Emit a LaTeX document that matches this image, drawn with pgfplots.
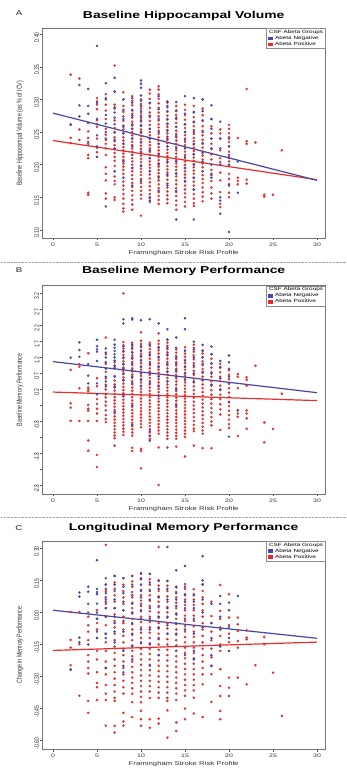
\documentclass[border=0pt]{standalone}
\usepackage{graphicx}
\usepackage{fontspec}
\setmainfont{Liberation Sans}
\usepackage{pgfplots}
\pgfplotsset{compat=1.18}
\definecolor{negC}{RGB}{72,72,168}
\definecolor{posC}{RGB}{232,42,42}
\definecolor{negL}{RGB}{70,70,165}
\definecolor{posL}{RGB}{236,45,45}
\newcommand{\hs}[1]{\scalebox{1.39}[1]{#1}}
\newcommand{\vs}[1]{\scalebox{1}[1.39]{#1}}
\newcommand{\tickfont}{\fontsize{5}{6}\selectfont}
\newcommand{\labfont}{\fontsize{5.6}{6.5}\selectfont}
\newcommand{\ylabfont}{\fontsize{5.3}{6}\selectfont}
\newcommand{\titfont}{\fontsize{10}{12}\selectfont\bfseries}
\newcommand{\legfont}{\fontsize{4.6}{5.2}\selectfont}
\pgfplotsset{
  every axis title/.style={at={(0.5,1)}, anchor=base, font=\titfont, inner sep=0pt},
  panel/.style={
    scale only axis, width=283.3pt,
    xmin=-1.25, xmax=30.94,
    axis line style={black!55, line width=0.45pt},
    tick align=outside, tick pos=left,
    major tick length=2.5pt,
    every tick/.style={black!70, line width=0.4pt},
    xtick={0,5,10,15,20,25,30},
    xticklabels={\hs{0},\hs{5},\hs{10},\hs{15},\hs{20},\hs{25},\hs{30}},
    ticklabel style={font=\tickfont, text=black!80},
    xticklabel style={inner sep=0pt, yshift=-2.5pt},
    yticklabel style={rotate=90, anchor=south, inner sep=0pt, xshift=-3pt},
    xlabel={\hs{Framingham Stroke Risk Profile}},
    xlabel style={font=\labfont, text=black!80, at={(axis description cs:0.5,0)}, anchor=north, yshift=-12.5pt, inner sep=0pt},
    ylabel style={font=\ylabfont, text=black!80, at={(axis description cs:-0.078,0.5)}, anchor=center, inner sep=0pt},
    legend style={at={(1,1)}, anchor=north east, draw=black!45, fill=white, font=\legfont,
      inner xsep=1.5pt, inner ysep=1pt, row sep=0.2pt, nodes={inner sep=0.5pt},
      /tikz/every odd column/.append style={column sep=2pt}},
    legend cell align=left,
  },
  negpts/.style={only marks, mark=*, mark size=1.05pt, color=negC, mark options={draw=none, fill=negC}, forget plot},
  pospts/.style={only marks, mark=*, mark size=1.05pt, color=posC, mark options={draw=none, fill=posC}, forget plot},
  negline/.style={no marks, color=negL, line width=1.2pt, forget plot},
  posline/.style={no marks, color=posL, line width=1.2pt, forget plot},
}
\newcommand{\mylegend}{%
  \addlegendimage{empty legend}\addlegendentry{\hspace*{-6pt}\hs{CSF Abeta Groups}}
  \addlegendimage{legend image code/.code={\fill[negC] (0pt,-1.2pt) rectangle (4.2pt,1.6pt);}}\addlegendentry{\hs{Abeta Negative}}
  \addlegendimage{legend image code/.code={\fill[posC] (0pt,-1.2pt) rectangle (4.2pt,1.6pt);}}\addlegendentry{\hs{Abeta Positive}}
}
\begin{document}
\begin{tikzpicture}
\useasboundingbox (0pt,0pt) rectangle (347pt,773pt);
\draw[black!35, line width=0.5pt, dash pattern=on 0.7pt off 0.7pt] (1pt,511pt) -- (346pt,511pt);
\draw[black!35, line width=0.5pt, dash pattern=on 0.7pt off 0.7pt] (1pt,256pt) -- (346pt,256pt);
\node[anchor=base, font=\fontsize{7}{8}\selectfont, text=black!85] at (19pt,757pt) {\hs{A}};
\node[anchor=base, font=\fontsize{7}{8}\selectfont, text=black!85] at (19pt,500.7pt) {\hs{B}};
\node[anchor=base, font=\fontsize{7}{8}\selectfont, text=black!85] at (19pt,242.5pt) {\hs{C}};

% ---------------- Panel A ----------------
\begin{axis}[panel, at={(42pt,535pt)}, anchor=south west, height=209.7pt,
  ymin=0.0877, ymax=0.409,
  ytick={0.10,0.15,0.20,0.25,0.30,0.35,0.40},
  yticklabels={\vs{0.10},\vs{0.15},\vs{0.20},\vs{0.25},\vs{0.30},\vs{0.35},\vs{0.40}},
  ylabel={\vs{Baseline Hippocampal Volume (as \% of ICV)}},
  title={\hs{Baseline Hippocampal Volume}}, title style={yshift=10pt}]
\mylegend
\addplot[pospts] coordinates {
(2,.338)(2,.261)(2,.241)(2,.233)
(3,.332)(3,.254)(3,.238)
(4,.251)(4,.241)(4,.235)(4,.215)(4,.210)(4,.157)(4,.154)
(5,.302)(5,.297)(5,.292)(5,.285)(5,.268)(5,.258)(5,.240)(5,.226)(5,.219)(5,.212)
(6,.308)(6,.302)(6,.292)(6,.283)(6,.270)(6,.255)(6,.246)(6,.238)(6,.232)(6,.225)(6,.215)(6,.196)(6,.186)(6,.176)(6,.156)(6,.148)
(7,.352)(7,.312)(7,.292)(7,.286)(7,.268)(7,.256)(7,.249)(7,.242)(7,.236)(7,.230)(7,.224)(7,.218)(7,.212)(7,.206)(7,.198)(7,.190)(7,.182)(7,.175)(7,.170)(7,.150)(7,.146)
(8,.311)(8,.300)(8,.290)(8,.281)(8,.274)(8,.267)(8,.260)(8,.254)(8,.248)(8,.242)(8,.237)(8,.232)(8,.227)(8,.222)(8,.217)(8,.212)(8,.207)(8,.202)(8,.197)(8,.192)(8,.186)(8,.180)(8,.174)(8,.168)(8,.162)(8,.155)(8,.148)(8,.140)(8,.133)(8,.128)
(9,.305)(9,.298)(9,.291)(9,.284)(9,.278)(9,.272)(9,.266)(9,.260)(9,.255)(9,.250)(9,.245)(9,.240)(9,.235)(9,.230)(9,.225)(9,.220)(9,.215)(9,.210)(9,.205)(9,.200)(9,.195)(9,.190)(9,.184)(9,.178)(9,.172)(9,.166)(9,.160)(9,.153)(9,.146)(9,.139)(9,.131)
(10,.300)(10,.293)(10,.286)(10,.279)(10,.272)(10,.266)(10,.260)(10,.254)(10,.249)(10,.244)(10,.239)(10,.234)(10,.229)(10,.224)(10,.219)(10,.214)(10,.209)(10,.204)(10,.199)(10,.194)(10,.189)(10,.184)(10,.178)(10,.172)(10,.166)(10,.160)(10,.154)(10,.148)(10,.122)
(11,.315)(11,.309)(11,.301)(11,.294)(11,.287)(11,.280)(11,.273)(11,.267)(11,.261)(11,.255)(11,.250)(11,.245)(11,.240)(11,.235)(11,.230)(11,.225)(11,.220)(11,.215)(11,.210)(11,.205)(11,.200)(11,.195)(11,.190)(11,.185)(11,.179)(11,.173)(11,.167)(11,.161)(11,.155)(11,.149)(11,.143)
(12,.320)(12,.315)(12,.308)(12,.301)(12,.294)(12,.287)(12,.280)(12,.274)(12,.268)(12,.262)(12,.257)(12,.252)(12,.247)(12,.242)(12,.237)(12,.232)(12,.227)(12,.222)(12,.217)(12,.212)(12,.207)(12,.202)(12,.197)(12,.192)(12,.187)(12,.182)(12,.176)(12,.170)(12,.164)(12,.158)(12,.152)(12,.146)(12,.140)
(13,.295)(13,.288)(13,.281)(13,.275)(13,.269)(13,.263)(13,.258)(13,.253)(13,.248)(13,.243)(13,.238)(13,.233)(13,.228)(13,.223)(13,.218)(13,.213)(13,.208)(13,.203)(13,.198)(13,.193)(13,.188)(13,.183)(13,.177)(13,.171)(13,.165)(13,.159)(13,.153)(13,.147)(13,.141)
(14,.290)(14,.283)(14,.276)(14,.270)(14,.264)(14,.258)(14,.252)(14,.247)(14,.242)(14,.237)(14,.232)(14,.227)(14,.222)(14,.217)(14,.212)(14,.207)(14,.202)(14,.197)(14,.192)(14,.187)(14,.182)(14,.176)(14,.170)(14,.164)(14,.158)(14,.152)(14,.145)(14,.138)(14,.131)
(15,.292)(15,.284)(15,.276)(15,.269)(15,.262)(15,.256)(15,.250)(15,.245)(15,.240)(15,.235)(15,.230)(15,.225)(15,.220)(15,.215)(15,.210)(15,.205)(15,.200)(15,.195)(15,.190)(15,.185)(15,.180)(15,.174)(15,.168)(15,.162)(15,.156)(15,.150)(15,.143)(15,.136)
(16,.290)(16,.281)(16,.273)(16,.266)(16,.259)(16,.253)(16,.247)(16,.241)(16,.236)(16,.231)(16,.226)(16,.221)(16,.216)(16,.211)(16,.206)(16,.201)(16,.196)(16,.191)(16,.186)(16,.180)(16,.174)(16,.168)(16,.162)(16,.155)(16,.148)(16,.141)(16,.137)
(17,.300)(17,.286)(17,.276)(17,.267)(17,.259)(17,.252)(17,.245)(17,.238)(17,.232)(17,.226)(17,.220)(17,.214)(17,.208)(17,.202)(17,.196)(17,.190)(17,.184)(17,.178)(17,.172)(17,.165)(17,.158)(17,.151)(17,.144)
(18,.270)(18,.259)(18,.248)(18,.240)(18,.232)(18,.224)(18,.216)(18,.208)(18,.200)(18,.192)(18,.184)(18,.175)(18,.165)(18,.156)(18,.148)
(19,.254)(19,.248)(19,.240)(19,.222)(19,.210)(19,.204)(19,.188)(19,.176)(19,.158)(19,.140)(19,.135)
(20,.261)(20,.255)(20,.248)(20,.242)(20,.235)(20,.228)(20,.220)(20,.212)(20,.205)(20,.198)(20,.186)(20,.178)(20,.170)(20,.157)(20,.150)
(21,.241)(21,.180)(21,.175)(21,.170)
(22,.316)(22,.236)(22,.232)(22,.177)(22,.171)
(23,.234)(24,.154)(24,.151)(25,.154)(26,.222)
};
\addplot[negpts] coordinates {
(2,.262)
(3,.322)(3,.291)(3,.274)
(4,.316)(4,.290)(4,.278)(4,.264)(4,.232)
(5,.382)(5,.295)(5,.270)(5,.262)(5,.245)(5,.228)(5,.212)
(6,.325)(6,.300)(6,.276)(6,.263)(6,.250)(6,.240)(6,.136)
(7,.333)(7,.312)(7,.288)(7,.280)(7,.272)(7,.262)(7,.250)(7,.238)(7,.225)(7,.190)
(8,.300)(8,.284)(8,.270)(8,.258)(8,.248)(8,.232)(8,.205)(8,.180)
(9,.302)(9,.295)(9,.283)(9,.275)(9,.262)(9,.255)(9,.240)(9,.228)(9,.215)(9,.195)(9,.168)
(10,.329)(10,.324)(10,.318)(10,.306)(10,.298)(10,.290)(10,.282)(10,.275)(10,.268)(10,.260)(10,.250)(10,.235)(10,.220)(10,.198)(10,.175)
(11,.295)(11,.275)(11,.255)(11,.240)(11,.222)(11,.210)(11,.190)(11,.150)(11,.145)
(12,.305)(12,.285)(12,.270)(12,.250)(12,.232)(12,.215)(12,.200)(12,.180)(12,.160)
(13,.297)(13,.290)(13,.282)(13,.270)(13,.262)(13,.252)(13,.240)(13,.228)(13,.205)(13,.185)(13,.168)
(14,.296)(14,.282)(14,.272)(14,.258)(14,.244)(14,.225)(14,.205)(14,.186)(14,.160)(14,.116)
(15,.305)(15,.278)(15,.262)(15,.250)(15,.238)(15,.225)(15,.212)(15,.195)(15,.175)
(16,.302)(16,.280)(16,.265)(16,.250)(16,.232)(16,.216)(16,.200)(16,.180)(16,.162)(16,.116)
(17,.300)(17,.282)(17,.268)(17,.250)(17,.233)(17,.218)(17,.205)(17,.190)
(18,.291)(18,.270)(18,.255)(18,.240)(18,.225)(18,.200)(18,.186)(18,.180)
(19,.266)(19,.240)(19,.225)(19,.200)(19,.150)(19,.145)(19,.125)
(20,.240)(20,.228)(20,.215)(20,.210)(20,.200)(20,.168)(20,.097)
(21,.205)(21,.157)
};
\addplot[posline] coordinates {(0,.237)(30,.177)};
\addplot[negline] coordinates {(0,.279)(30,.176)};
\end{axis}

% ---------------- Panel B ----------------
\begin{axis}[panel, at={(42pt,279pt)}, anchor=south west, height=208.3pt,
  ymin=-3.059, ymax=3.437,
  ytick={-2.8,-2.3,-1.8,-1.3,-0.8,-0.3,0.2,0.7,1.2,1.7,2.2,2.7,3.2},
  yticklabels={\vs{-2.8},{},\vs{-1.8},{},\vs{-0.8},{},\vs{0.2},\vs{0.7},\vs{1.2},\vs{1.7},\vs{2.2},\vs{2.7},\vs{3.2}},
  ylabel={\vs{Baseline Memory Performance}},
  title={\hs{Baseline Memory Performance}}, title style={yshift=12.4pt}]
\mylegend
\addplot[pospts] coordinates {
(2,.81)(2,-.23)(2,-.37)(2,-.78)
(3,.99)(3,.91)(3,.24)(3,-.78)
(4,1.33)(4,.26)(4,.20)(4,.14)(4,-.28)(4,-.40)(4,-.46)(4,-.78)(4,-1.39)(4,-1.71)
(5,.55)(5,.30)(5,-.10)(5,-.25)(5,-.40)(5,-.55)(5,-.78)(5,-1.84)(5,-2.22)
(6,1.82)(6,1.30)(6,1.00)(6,.75)(6,.55)(6,.35)(6,.20)(6,.05)(6,-.05)(6,-.18)(6,-.30)(6,-.45)(6,-.60)(6,-.72)(6,-.82)
(7,1.05)(7,.90)(7,.62)(7,.48)(7,.36)(7,.26)(7,.16)(7,.06)(7,-.04)(7,-.14)(7,-.24)(7,-.34)(7,-.44)(7,-.54)(7,-.64)(7,-.74)(7,-.84)(7,-.94)(7,-1.04)(7,-1.14)(7,-1.24)(7,-1.32)(7,-1.55)
(8,3.20)(8,1.68)(8,1.58)(8,1.48)(8,1.38)(8,1.28)(8,1.18)(8,1.08)(8,.98)(8,.88)(8,.78)(8,.68)(8,.58)(8,.48)(8,.38)(8,.28)(8,.18)(8,.08)(8,-.02)(8,-.12)(8,-.22)(8,-.32)(8,-.42)(8,-.52)(8,-.62)(8,-.72)(8,-.82)(8,-.92)(8,-1.02)(8,-1.12)(8,-1.22)
(9,1.66)(9,1.56)(9,1.46)(9,1.36)(9,1.26)(9,1.16)(9,1.06)(9,.96)(9,.86)(9,.76)(9,.66)(9,.56)(9,.46)(9,.36)(9,.26)(9,.16)(9,.06)(9,-.04)(9,-.14)(9,-.24)(9,-.34)(9,-.44)(9,-.54)(9,-.64)(9,-.74)(9,-.84)(9,-.94)(9,-1.04)(9,-1.14)(9,-1.24)(9,-1.62)(9,-1.72)
(10,1.98)(10,1.72)(10,1.62)(10,1.52)(10,1.42)(10,1.32)(10,1.22)(10,1.12)(10,1.02)(10,.92)(10,.82)(10,.72)(10,.62)(10,.52)(10,.42)(10,.32)(10,.22)(10,.12)(10,.02)(10,-.08)(10,-.18)(10,-.28)(10,-.38)(10,-.48)(10,-.58)(10,-.68)(10,-.78)(10,-.88)(10,-.98)(10,-1.65)(10,-1.72)(10,-2.26)
(11,1.66)(11,1.56)(11,1.46)(11,1.36)(11,1.26)(11,1.16)(11,1.06)(11,.96)(11,.86)(11,.76)(11,.66)(11,.56)(11,.46)(11,.36)(11,.26)(11,.16)(11,.06)(11,-.04)(11,-.14)(11,-.24)(11,-.34)(11,-.44)(11,-.54)(11,-.64)(11,-.74)(11,-.84)(11,-.94)(11,-1.04)(11,-1.14)(11,-1.24)(11,-1.34)
(12,1.95)(12,1.72)(12,1.62)(12,1.52)(12,1.42)(12,1.32)(12,1.22)(12,1.12)(12,1.02)(12,.92)(12,.82)(12,.72)(12,.62)(12,.52)(12,.42)(12,.32)(12,.22)(12,.12)(12,.02)(12,-.08)(12,-.18)(12,-.28)(12,-.38)(12,-.48)(12,-.58)(12,-.68)(12,-.78)(12,-.88)(12,-.98)(12,-1.08)(12,-1.18)(12,-1.61)(12,-2.78)
(13,1.76)(13,1.66)(13,1.56)(13,1.46)(13,1.36)(13,1.26)(13,1.16)(13,1.06)(13,.96)(13,.86)(13,.76)(13,.66)(13,.56)(13,.46)(13,.36)(13,.26)(13,.16)(13,.06)(13,-.04)(13,-.14)(13,-.24)(13,-.34)(13,-.44)(13,-.54)(13,-.64)(13,-.74)(13,-.84)(13,-.94)(13,-1.04)(13,-1.14)(13,-1.24)(13,-1.34)(13,-1.61)
(14,1.45)(14,1.35)(14,1.25)(14,1.15)(14,1.05)(14,.95)(14,.85)(14,.75)(14,.65)(14,.55)(14,.45)(14,.35)(14,.25)(14,.15)(14,.05)(14,-.05)(14,-.15)(14,-.25)(14,-.35)(14,-.45)(14,-.55)(14,-.65)(14,-.75)(14,-.85)(14,-.95)(14,-1.05)(14,-1.15)(14,-1.25)(14,-1.34)(14,-1.58)
(15,1.52)(15,1.42)(15,1.32)(15,1.22)(15,1.12)(15,1.02)(15,.92)(15,.82)(15,.72)(15,.62)(15,.52)(15,.42)(15,.32)(15,.22)(15,.12)(15,.02)(15,-.08)(15,-.18)(15,-.28)(15,-.38)(15,-.48)(15,-.58)(15,-.68)(15,-.78)(15,-.88)(15,-.98)(15,-1.08)(15,-1.18)(15,-1.28)(15,-1.89)
(16,1.60)(16,1.50)(16,1.38)(16,1.26)(16,1.14)(16,1.02)(16,.90)(16,.78)(16,.66)(16,.54)(16,.42)(16,.30)(16,.18)(16,.06)(16,-.06)(16,-.18)(16,-.30)(16,-.42)(16,-.54)(16,-.66)(16,-.78)(16,-.90)(16,-1.02)(16,-1.10)(16,-1.55)
(17,1.42)(17,1.32)(17,1.20)(17,1.08)(17,.96)(17,.84)(17,.72)(17,.60)(17,.48)(17,.36)(17,.24)(17,.12)(17,.00)(17,-.12)(17,-.24)(17,-.36)(17,-.48)(17,-.60)(17,-.72)(17,-.84)(17,-.96)(17,-1.08)(17,-1.18)(17,-1.63)
(18,1.30)(18,1.16)(18,1.02)(18,.88)(18,.74)(18,.60)(18,.46)(18,.32)(18,.18)(18,.04)(18,-.10)(18,-.24)(18,-.38)(18,-.52)(18,-.66)(18,-.80)(18,-.92)(18,-1.63)
(19,1.00)(19,.88)(19,.74)(19,.60)(19,.46)(19,.32)(19,.18)(19,.04)(19,-.10)(19,-.26)(19,-.42)(19,-.58)(19,-1.06)
(20,.80)(20,.66)(20,.52)(20,.38)(20,.24)(20,.10)(20,-.04)(20,-.18)(20,-.32)(20,-.46)(20,-.60)(20,-.74)(20,-.88)(20,-1.00)
(21,.68)(21,.60)(21,.24)(21,-.45)(21,-.55)(21,-.65)(21,-1.25)
(22,.58)(22,.50)(22,.32)(22,-.45)(22,-.55)(22,-.70)(22,-1.03)
(23,.94)(24,-.83)(24,-1.45)(25,-1.03)(26,.07)
};
\addplot[negpts] coordinates {
(2,1.19)
(3,1.67)(3,1.43)(3,1.22)
(4,.99)(4,.63)(4,.39)
(5,1.75)(5,1.55)(5,1.45)(5,1.38)(5,1.09)(5,.39)(5,.05)
(6,1.48)(6,1.35)(6,1.20)(6,1.05)(6,.85)(6,.60)(6,.45)(6,.30)
(7,1.75)(7,1.60)(7,1.50)(7,1.40)(7,1.30)(7,1.20)(7,1.10)(7,.95)(7,.86)(7,.60)(7,.30)(7,-.50)
(8,2.39)(8,2.26)(8,1.55)(8,1.40)(8,1.20)(8,1.00)(8,.85)(8,.70)(8,.50)(8,.00)
(9,2.42)(9,2.38)(9,1.60)(9,1.50)(9,1.35)(9,1.20)(9,1.00)(9,.80)(9,.60)(9,.40)(9,-.30)(9,-.90)
(10,2.36)(10,1.55)(10,1.40)(10,1.25)(10,1.10)(10,.90)(10,.70)(10,.50)(10,.30)
(11,2.39)(11,1.60)(11,1.30)(11,1.00)(11,.70)(11,.40)(11,-1.10)(11,-1.25)(11,-1.40)
(12,2.26)(12,1.50)(12,1.20)(12,.90)(12,.60)(12,.30)(12,.00)
(13,2.08)(13,1.75)(13,1.50)(13,1.30)(13,1.00)(13,.75)(13,.45)
(14,1.82)(14,1.50)(14,1.20)(14,1.00)(14,.80)(14,.60)(14,.20)(14,-.30)
(15,2.42)(15,2.08)(15,1.40)(15,1.10)(15,.90)(15,.70)(15,.50)
(16,1.69)(16,1.45)(16,1.20)(16,.95)(16,.70)(16,.45)
(17,1.59)(17,1.40)(17,1.20)(17,1.00)(17,.75)(17,.50)
(18,1.54)(18,1.30)(18,1.00)(18,.70)(18,.35)
(19,1.09)(19,.90)(19,.55)(19,.20)
(20,1.26)(20,1.05)(20,.85)(20,.60)(20,.40)(20,-.20)(20,-1.27)
(21,-.45)
};
\addplot[posline] coordinates {(0,.12)(30,-.147)};
\addplot[negline] coordinates {(0,1.07)(30,.10)};
\end{axis}

% ---------------- Panel C ----------------
\begin{axis}[panel, at={(42pt,24pt)}, anchor=south west, height=208pt,
  ymin=-0.639, ymax=0.334,
  ytick={-0.60,-0.45,-0.30,-0.15,0.00,0.15,0.30},
  yticklabels={\vs{-0.60},\vs{-0.45},\vs{-0.30},\vs{-0.15},\vs{0.00},\vs{0.15},\vs{0.30}},
  ylabel={\vs{Change in Memory Performance}},
  title={\hs{Longitudinal Memory Performance}}, title style={yshift=10.3pt}]
\mylegend
\addplot[pospts] coordinates {
(2,.002)(2,-.129)(2,-.165)(2,-.247)(2,-.269)
(3,.002)(3,-.149)(3,-.390)
(4,-.020)(4,-.060)(4,-.090)(4,-.130)(4,-.200)(4,-.230)(4,-.260)(4,-.286)(4,-.414)(4,-.470)
(5,.010)(5,-.030)(5,-.050)(5,-.080)(5,-.120)(5,-.180)(5,-.220)(5,-.280)(5,-.330)(5,-.350)(5,-.410)
(6,.316)(6,.130)(6,.100)(6,.060)(6,.040)(6,.020)(6,-.020)(6,-.060)(6,-.100)(6,-.140)(6,-.180)(6,-.230)(6,-.260)(6,-.290)(6,-.340)(6,-.380)(6,-.410)(6,-.530)
(7,.171)(7,.140)(7,.110)(7,.080)(7,.050)(7,.020)(7,-.010)(7,-.040)(7,-.070)(7,-.100)(7,-.130)(7,-.160)(7,-.190)(7,-.220)(7,-.250)(7,-.280)(7,-.310)(7,-.340)(7,-.370)(7,-.400)(7,-.414)(7,-.531)(7,-.562)
(8,.160)(8,.130)(8,.100)(8,.070)(8,.040)(8,.010)(8,-.020)(8,-.050)(8,-.080)(8,-.110)(8,-.140)(8,-.170)(8,-.200)(8,-.230)(8,-.260)(8,-.290)(8,-.320)(8,-.350)(8,-.380)(8,-.470)(8,-.510)(8,-.530)
(9,.171)(9,.145)(9,.120)(9,.095)(9,.070)(9,.045)(9,.020)(9,-.005)(9,-.030)(9,-.055)(9,-.080)(9,-.105)(9,-.130)(9,-.155)(9,-.180)(9,-.205)(9,-.230)(9,-.255)(9,-.280)(9,-.305)(9,-.330)(9,-.355)(9,-.380)(9,-.420)(9,-.490)
(10,.180)(10,.155)(10,.130)(10,.105)(10,.080)(10,.055)(10,.030)(10,.005)(10,-.020)(10,-.045)(10,-.070)(10,-.095)(10,-.120)(10,-.145)(10,-.170)(10,-.195)(10,-.220)(10,-.245)(10,-.270)(10,-.295)(10,-.320)(10,-.345)(10,-.370)(10,-.395)(10,-.420)(10,-.460)(10,-.500)(10,-.530)
(11,.180)(11,.155)(11,.130)(11,.105)(11,.080)(11,.055)(11,.030)(11,.005)(11,-.020)(11,-.045)(11,-.070)(11,-.095)(11,-.120)(11,-.145)(11,-.170)(11,-.195)(11,-.220)(11,-.245)(11,-.270)(11,-.295)(11,-.320)(11,-.345)(11,-.370)(11,-.400)(11,-.500)(11,-.540)
(12,.306)(12,.147)(12,.125)(12,.100)(12,.075)(12,.050)(12,.025)(12,.000)(12,-.025)(12,-.050)(12,-.075)(12,-.100)(12,-.125)(12,-.150)(12,-.175)(12,-.200)(12,-.225)(12,-.250)(12,-.275)(12,-.300)(12,-.325)(12,-.350)(12,-.375)(12,-.400)(12,-.497)(12,-.520)
(13,.147)(13,.125)(13,.100)(13,.075)(13,.050)(13,.025)(13,.000)(13,-.025)(13,-.050)(13,-.075)(13,-.100)(13,-.125)(13,-.150)(13,-.175)(13,-.200)(13,-.225)(13,-.250)(13,-.275)(13,-.300)(13,-.325)(13,-.350)(13,-.375)(13,-.400)(13,-.414)(13,-.458)(13,-.586)
(14,.116)(14,.095)(14,.070)(14,.045)(14,.020)(14,-.005)(14,-.030)(14,-.055)(14,-.080)(14,-.105)(14,-.130)(14,-.155)(14,-.180)(14,-.205)(14,-.230)(14,-.255)(14,-.280)(14,-.305)(14,-.330)(14,-.355)(14,-.380)(14,-.410)(14,-.515)(14,-.555)
(15,.132)(15,.110)(15,.085)(15,.060)(15,.035)(15,.010)(15,-.015)(15,-.040)(15,-.065)(15,-.090)(15,-.115)(15,-.140)(15,-.165)(15,-.190)(15,-.215)(15,-.240)(15,-.265)(15,-.290)(15,-.315)(15,-.340)(15,-.365)(15,-.390)(15,-.450)(15,-.500)
(16,.108)(16,.085)(16,.060)(16,.035)(16,.010)(16,-.015)(16,-.040)(16,-.065)(16,-.090)(16,-.115)(16,-.140)(16,-.165)(16,-.190)(16,-.215)(16,-.240)(16,-.265)(16,-.290)(16,-.315)(16,-.340)(16,-.365)(16,-.399)(16,-.473)
(17,.132)(17,.100)(17,.070)(17,.040)(17,.010)(17,-.020)(17,-.050)(17,-.080)(17,-.110)(17,-.140)(17,-.170)(17,-.200)(17,-.230)(17,-.260)(17,-.290)(17,-.336)(17,-.490)
(18,.050)(18,-.017)(18,-.050)(18,-.090)(18,-.130)(18,-.170)(18,-.210)(18,-.250)(18,-.289)(18,-.419)
(19,.128)(19,.007)(19,-.030)(19,-.070)(19,-.110)(19,-.150)(19,-.180)(19,-.266)(19,-.344)(19,-.391)(19,-.461)(19,-.500)
(20,.085)(20,-.024)(20,-.060)(20,-.100)(20,-.140)(20,-.180)(20,-.305)(20,-.352)(20,-.391)
(21,-.024)(21,-.056)(21,-.087)(21,-.134)(21,-.165)(21,-.305)
(22,-.084)(22,-.118)(22,-.126)(22,-.336)
(23,-.247)(24,-.115)(24,-.149)(25,-.282)(26,-.484)
};
\addplot[negpts] coordinates {
(2,-.266)
(3,.093)(3,.074)(3,-.118)(3,-.140)
(4,.120)(4,.097)(4,.040)(4,-.001)(4,-.150)
(5,.244)(5,.110)(5,.095)(5,.085)(5,.041)(5,-.001)(5,-.030)(5,-.090)(5,-.120)
(6,.160)(6,.130)(6,.110)(6,.090)(6,.070)(6,.050)(6,.020)(6,-.020)(6,-.100)(6,-.120)(6,-.260)
(7,.170)(7,.130)(7,.100)(7,.060)(7,.020)(7,-.020)(7,-.050)(7,-.090)(7,-.140)
(8,.160)(8,.120)(8,.090)(8,.050)(8,.010)(8,-.040)(8,-.090)(8,-.180)(8,-.250)(8,-.280)
(9,.170)(9,.130)(9,.080)(9,.040)(9,.000)(9,-.050)(9,-.100)(9,-.160)(9,-.220)
(10,.185)(10,.160)(10,.130)(10,.100)(10,.070)(10,.040)(10,.010)(10,-.030)(10,-.080)(10,-.140)
(11,.180)(11,.140)(11,.100)(11,.060)(11,.020)(11,-.030)(11,-.080)(11,-.150)(11,-.250)
(12,.150)(12,.110)(12,.070)(12,.030)(12,-.020)(12,-.070)(12,-.120)(12,-.200)
(13,.306)(13,.147)(13,.110)(13,.060)(13,.020)(13,-.020)(13,-.060)(13,-.100)
(14,.197)(14,.120)(14,.090)(14,.060)(14,.030)(14,-.010)(14,-.050)(14,-.100)(14,-.180)
(15,.217)(15,.120)(15,.080)(15,.050)(15,.020)(15,-.030)(15,-.080)(15,-.200)
(16,.080)(16,.050)(16,.020)(16,-.030)(16,-.100)(16,-.180)(16,-.220)
(17,.263)(17,.150)(17,.130)(17,.060)(17,.000)(17,-.070)
(18,.040)(18,-.050)(18,-.120)(18,-.200)(18,-.250)
(19,.077)(19,.040)(19,-.020)(19,-.080)(19,-.160)
(20,.046)(20,.010)(20,-.070)(20,-.120)(20,-.180)
(21,.077)
};
\addplot[posline] coordinates {(0,-.178)(30,-.139)};
\addplot[negline] coordinates {(0,.010)(30,-.121)};
\end{axis}
\end{tikzpicture}
\end{document}
